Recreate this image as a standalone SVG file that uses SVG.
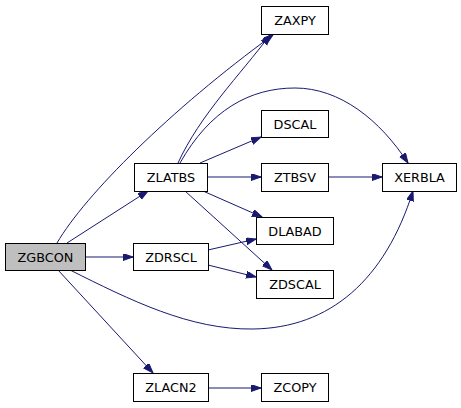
<svg xmlns="http://www.w3.org/2000/svg" width="461" height="408" viewBox="0 0 461 408">
<style>
.n rect{fill:#fff;stroke:#000;stroke-width:1}
.n text{font-family:"DejaVu Sans",sans-serif;font-size:12.8px;text-anchor:middle;fill:#000}
.e path{fill:none;stroke:#191970;stroke-width:1;marker-end:url(#ah)}
</style>
<defs>
<marker id="ah" markerUnits="userSpaceOnUse" markerWidth="11" markerHeight="8" refX="10" refY="3.5" orient="auto">
<path d="M0,0 L10,3.5 L0,7 z" fill="#191970" stroke="#191970" stroke-width="1"/>
</marker>
</defs>
<rect width="461" height="408" fill="#fff"/>
<g id="edges" class="e">
<path d="M57,243 C85,195 170,110 273,35"/>
<path d="M178,163 C200,115 240,75 270,35"/>
<path d="M180,163 C210,110 250,88 295,88 C340,88 380,120 408,163"/>
<path d="M200,163 L261,137"/>
<path d="M207,177 L261,177"/>
<path d="M328,177 L382,177"/>
<path d="M203,191 L262,217"/>
<path d="M185,191 L272,270"/>
<path d="M67,243 L148,191"/>
<path d="M85,257 L133,257"/>
<path d="M208,250 L256,239"/>
<path d="M208,265 L256,277"/>
<path d="M58,270 L153,373"/>
<path d="M208,388 L261,388"/>
<path d="M70,270 C130,300 190,330 253,329 C330,328 385,280 413,191"/>
</g>
<g id="ZGBCON" class="n"><rect x="5.5" y="243.5" width="80" height="27" style="fill:#bfbfbf"/><text x="45.5" y="261.5">ZGBCON</text></g>
<g id="ZLATBS" class="n"><rect x="134.5" y="163.5" width="73" height="28"/><text x="171" y="182">ZLATBS</text></g>
<g id="ZDRSCL" class="n"><rect x="133.5" y="243.5" width="75" height="27"/><text x="171" y="261.5">ZDRSCL</text></g>
<g id="ZLACN2" class="n"><rect x="133.5" y="373.5" width="75" height="28"/><text x="171" y="392">ZLACN2</text></g>
<g id="ZAXPY" class="n"><rect x="261.5" y="6.5" width="67" height="28"/><text x="295" y="25">ZAXPY</text></g>
<g id="DSCAL" class="n"><rect x="261.5" y="110.5" width="67" height="27"/><text x="295" y="128.5">DSCAL</text></g>
<g id="ZTBSV" class="n"><rect x="261.5" y="163.5" width="67" height="28"/><text x="295" y="182">ZTBSV</text></g>
<g id="XERBLA" class="n"><rect x="382.5" y="163.5" width="74" height="28"/><text x="419.5" y="182">XERBLA</text></g>
<g id="DLABAD" class="n"><rect x="256.5" y="217.5" width="77" height="27"/><text x="295" y="235.5">DLABAD</text></g>
<g id="ZDSCAL" class="n"><rect x="256.5" y="270.5" width="77" height="28"/><text x="295" y="289">ZDSCAL</text></g>
<g id="ZCOPY" class="n"><rect x="261.5" y="373.5" width="67" height="28"/><text x="295" y="392">ZCOPY</text></g>
</svg>
